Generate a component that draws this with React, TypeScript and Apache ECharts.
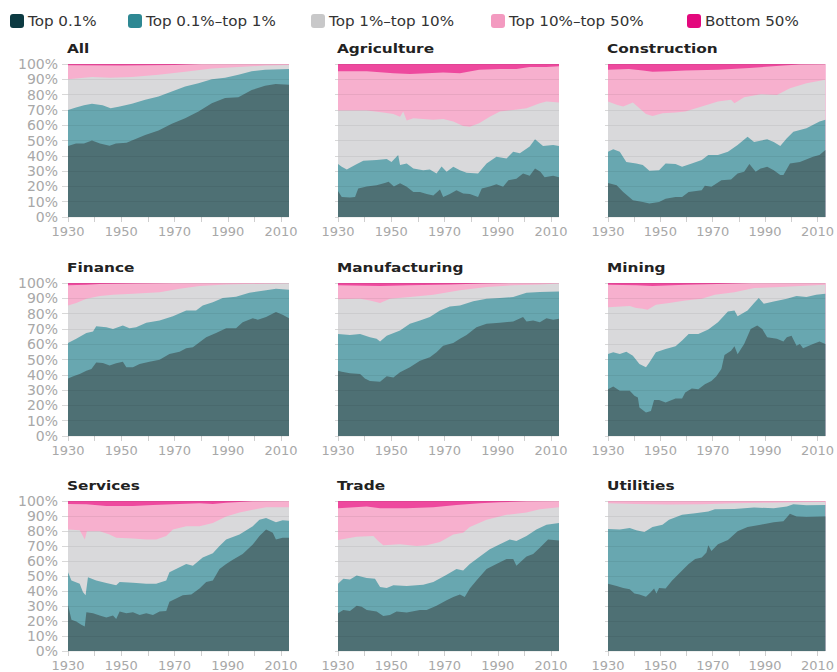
import React, { useEffect, useRef } from "react";
import * as echarts from "echarts";

const SERIES_NAMES = ["Top 0.1%", "Top 0.1%–top 1%", "Top 1%–top 10%", "Top 10%–top 50%", "Bottom 50%"];
const LEGEND_COLORS = ["#0c3a42", "#2e8893", "#c8c8c9", "#f39ac0", "#e3087d"];
const AREA_COLORS = ["#4e7074", "#68a7b0", "#d9d9db", "#f7b0ce", "#ee499e"];
const X_TICKS = [1930, 1940, 1950, 1960, 1970, 1980, 1990, 2000, 2010];
const X_LABELS = [1930, 1950, 1970, 1990, 2010];
const PANEL_TITLES = ["All", "Agriculture", "Construction", "Finance", "Manufacturing", "Mining", "Services", "Trade", "Utilities"];

// cumulative shares (%) held by top 0.1%, top 1%, top 10%, top 50%; [year, value]
const FULL = [[1930, 100], [2013, 100]];

const ALL_T01 = [[1930,46.4],[1933,48],[1936,48],[1939,50],[1942,48],[1945.6,46.5],[1948,48],[1952,48.5],[1954,50],[1959,53.6],[1964,56.5],[1969,61],[1974,64.5],[1979,69],[1984,74.4],[1989,77.7],[1994,78.3],[1999,83],[2004,85.8],[2008,87],[2013,86.4]];
const ALL_T1 = [[1930,70],[1933,71.5],[1936,73],[1939,74],[1943,73],[1946,71],[1949,72],[1954,74],[1959,76.6],[1964,78.8],[1969,82],[1974,85.3],[1979,87.5],[1984,90],[1989,91],[1994,93],[1999,95.2],[2004,96.3],[2013,96.7]];
const ALL_T10 = [[1930,90],[1939,91.5],[1946,91],[1954,91.5],[1964,93],[1974,95],[1984,97],[1994,98],[2004,99],[2013,99.3]];
const ALL_T50 = [[1930,99.2],[1950,99],[1970,99.4],[1980,100],[2013,100]];

const AGR_T01 = [[1930,17],[1931.4,13],[1934.5,12.7],[1936.4,13],[1937.6,18.6],[1940.8,20],[1944.5,20.8],[1947.6,22.3],[1949,23],[1951,20],[1953.3,22],[1955.8,19.7],[1958.3,16.4],[1960.8,16.4],[1963.3,15],[1965.8,14],[1968.3,18],[1969.5,13],[1972,15],[1974.5,17.5],[1977,15.3],[1979.5,15],[1982.6,13],[1984,18.6],[1987,20],[1989.5,21.4],[1992,19.7],[1994,24],[1997,25],[1999.5,28.4],[2002,27],[2004,31.7],[2006,29.5],[2007.6,26],[2010.8,27],[2013,26]];
const AGR_T1 = [[1930,34.6],[1931.4,32.8],[1933.3,31],[1936.4,34],[1939.5,36.8],[1944.5,37.2],[1948.3,37.9],[1950.1,36],[1952.6,40.5],[1953.3,34],[1955.8,35],[1958.3,31.7],[1962,30.6],[1964.5,31],[1967,28.4],[1968.9,33],[1970.8,29.5],[1973.3,32.8],[1975.8,30.6],[1978.3,29],[1982.6,28.4],[1985.8,35],[1989.5,39.4],[1993.3,38.3],[1995.8,42.7],[1998.3,41.6],[2002,46],[2004,50.8],[2007,46.4],[2010.8,47],[2013,46.4]];
const AGR_T10 = [[1930,69.6],[1940.8,69.6],[1947,68.3],[1950.8,67.4],[1953.3,65.6],[1954.5,69],[1955.8,63],[1958.3,64.5],[1962,64],[1965.8,63.5],[1969.5,64],[1973.3,62.4],[1977,59.5],[1979.5,59],[1983,61.3],[1987,65.6],[1990.8,69],[1995.8,70],[2000.8,71],[2005.8,74.4],[2008.3,75.5],[2013,74.8]];
const AGR_T50 = [[1930,95.2],[1940.8,95.2],[1950.8,94],[1957,93.4],[1963.3,94],[1969.5,94.5],[1975.8,94],[1983,96.3],[1990.8,96.7],[1997,96.7],[2002,98],[2008.3,98],[2013,98.5]];

const CON_T01 = [[1930,22.3],[1933.3,20.8],[1935.8,16.4],[1939.5,10.9],[1943.3,9.8],[1945.8,8.8],[1949.5,9.8],[1952,12],[1955.8,13],[1958.3,13],[1960.8,16.4],[1965.8,17.5],[1967,20.4],[1969.5,19.7],[1973.3,24],[1977,24.5],[1979.5,28.4],[1982,29.5],[1984,34.6],[1986.4,29.5],[1988.3,31.7],[1990.8,32.8],[1993.3,30.6],[1995.8,27.4],[1997,27.4],[1999.5,35],[2003.3,36],[2008.3,39.4],[2010.8,40.5],[2013,43.8]];
const CON_T1 = [[1930,42.7],[1932,44.2],[1934.5,42.7],[1937,36],[1940.8,35],[1943.3,34],[1945.8,30.2],[1949.5,30.6],[1952,35],[1955.8,34.6],[1958.3,32.8],[1962,35],[1965.8,37.2],[1968.3,40.5],[1972,40.5],[1975.8,42.7],[1979.5,47],[1983.3,52.5],[1985.8,49],[1990.8,50.8],[1993.3,49],[1995.8,46.4],[1998.3,51.4],[2000.8,55.8],[2005.8,58],[2010.8,62.4],[2013,63.5]];
const CON_T10 = [[1930,75.5],[1933.3,73.3],[1935.8,72.2],[1939.5,74.8],[1942,71],[1944.5,67.4],[1947,66],[1950.8,67.8],[1955.8,68.3],[1959.5,69],[1965.8,72.2],[1972,75.5],[1977,76.6],[1978.3,74.4],[1982,78.3],[1988.3,80.3],[1994.5,79.8],[1999.5,84.2],[2005.8,87.5],[2013,89.7]];
const CON_T50 = [[1930,96.3],[1938,96.7],[1943.3,95.8],[1947,95],[1953.3,95.2],[1959.5,95.8],[1972,96.3],[1984,97.4],[1997,99],[2003.3,99.6],[2013,99.8]];

const FIN_T01 = [[1930,37.6],[1932,39],[1934.4,40.5],[1936.9,42.7],[1938.8,43.8],[1940.6,48],[1943.1,47.7],[1945.6,46],[1948.1,47.5],[1950.6,48.6],[1951.9,44.9],[1954.4,44.9],[1956.9,47],[1960.6,48.6],[1964.4,49.9],[1968.1,53.6],[1971.9,55],[1974.4,57.3],[1976.9,58],[1979.4,61.3],[1981.9,64.6],[1985.6,67.4],[1989.4,70.5],[1993.1,70.5],[1995.6,74.4],[1999.4,77],[2001.3,75.9],[2004.4,77.7],[2008.1,81],[2010.6,79.2],[2013,77]];
const FIN_T1 = [[1930,60.8],[1933.1,63.5],[1936.9,67.4],[1939.4,68.3],[1940.6,71.8],[1944.4,71],[1946.9,70],[1950.6,72.2],[1953.1,70.5],[1955.6,71],[1959.4,74],[1964.4,75.5],[1969.4,78.3],[1974.4,82],[1978.1,82],[1980.6,85.3],[1984.4,87.5],[1988.1,90.2],[1993.1,91],[1998.1,93.7],[2004.4,95.2],[2008.1,96.3],[2013,95.6]];
const FIN_T10 = [[1930,85.3],[1933.1,87],[1936.9,89.7],[1941.9,91.5],[1946.9,92.3],[1954.4,93],[1964.4,94],[1971.9,96.3],[1979.4,98],[1989.4,99.1],[2013,99.8]];
const FIN_T50 = [[1930,98.5],[1936.9,98.9],[1941.9,99.3],[1954.4,99.6],[1970,100],[2013,100]];

const MAN_T01 = [[1930,42.7],[1931.4,42],[1934.5,41],[1938.3,40.5],[1940.1,37.6],[1942,36],[1945.8,35.4],[1948.3,39],[1950.8,38.3],[1953.3,41.6],[1957,44.9],[1960.8,49.2],[1964.5,51.4],[1967,54.7],[1969.5,59],[1973.3,60.8],[1975.8,63.5],[1978.3,66],[1982,71],[1985.8,73.3],[1990.8,74],[1995.8,74.8],[1999.5,77.7],[2000.8,74.8],[2003.3,75.5],[2005.8,74.4],[2008.3,77],[2010.8,76],[2013,76.6]];
const MAN_T1 = [[1930,66.7],[1934.5,66],[1938.3,66.7],[1942,64.6],[1944.5,63.5],[1945.8,61.7],[1948.3,65.6],[1953.3,69],[1957,73.3],[1960.8,75.5],[1964.5,77.7],[1968.3,82],[1972,84.7],[1975.8,85.3],[1980.8,88],[1985.8,89.7],[1990.8,90.2],[1995.8,90.8],[2000.8,93.7],[2005.8,94.1],[2013,94.5]];
const MAN_T10 = [[1930,89.3],[1938.3,89.7],[1942,88.6],[1945.8,87],[1949.5,89.7],[1957,90.8],[1965.8,92.3],[1975.8,95.2],[1985.8,97.4],[1995.8,98.5],[2005.8,99.1],[2013,99.6]];
const MAN_T50 = [[1930,98.5],[1945.8,98],[1957,98.5],[1972,99.1],[1984.5,99.6],[1995,100],[2013,100]];

const MIN_T01 = [[1930,30.6],[1932,32.4],[1934.5,29.5],[1938.3,29.5],[1940.1,26.3],[1941.4,25.2],[1942,18.6],[1944.5,15.3],[1946.4,16.4],[1947.6,23.6],[1949.5,23.6],[1952,21.9],[1955.8,24.5],[1958.3,24.5],[1959.5,28.4],[1962,31],[1964.5,30.6],[1967,33.9],[1969.5,36],[1971.4,39],[1973.3,43.8],[1974.5,53],[1977,55.8],[1978.3,58.6],[1979.5,53.4],[1982,60.2],[1984.5,70],[1987,72.2],[1988.9,70],[1990.8,64.6],[1994.5,63.5],[1997,61.7],[1998.3,64.6],[2000.1,65.6],[2002,59],[2003.3,60.2],[2004.5,57.3],[2008.3,60.2],[2010.8,61.7],[2013,60.2]];
const MIN_T1 = [[1930,53.6],[1932,54.7],[1934.5,53.6],[1937,55],[1939.5,52.5],[1942,47],[1944.5,44.9],[1945.8,48],[1948.3,54.7],[1952,56.9],[1955.8,58.6],[1958.3,62.4],[1960.8,66.7],[1964.5,66.7],[1968.3,69.6],[1972,74.4],[1975.8,81.4],[1978.3,82],[1979.5,78.3],[1983.3,82],[1985.8,87],[1987.6,90.2],[1989.5,86.4],[1993.3,87.9],[1998.3,89.7],[2002,91.5],[2005.8,90.8],[2009.5,92.3],[2013,93]];
const MIN_T10 = [[1930,84.2],[1938.3,84.9],[1940.8,83.6],[1943.3,83.2],[1945.1,82.5],[1948.3,85.8],[1953.3,87],[1959.5,88.6],[1965.8,89.7],[1970.8,92.3],[1978.3,94],[1985.8,96.7],[1995.8,97.4],[2003.3,98],[2013,98.9]];
const MIN_T50 = [[1930,98.9],[1940.8,98.5],[1947,98],[1959.5,98.9],[1971.8,99.3],[1985,100],[2013,100]];

const SER_T01 = [[1930,30.6],[1931.3,20.8],[1933.1,19.7],[1935,17.5],[1936.3,16.4],[1936.9,25.8],[1939.4,25.2],[1941.9,23.6],[1944.4,22.3],[1946.9,23.6],[1948.1,21.4],[1949.4,26.3],[1951.9,25.2],[1954.4,25.8],[1956.9,24],[1959.4,25.2],[1961.9,24],[1964.4,26.3],[1966.9,26.7],[1968.1,32.8],[1970.6,35],[1973.1,37.2],[1976.3,37.6],[1979.4,41.6],[1981.9,46],[1984.4,47],[1986.9,54.7],[1989.4,58],[1991.9,60.8],[1995.6,64.6],[1999.4,71],[2001.9,76.6],[2004.4,81],[2006.9,78.8],[2008.1,74.4],[2010.6,75.5],[2013,75.5]];
const SER_T1 = [[1930,52.5],[1931.3,47],[1934.4,44.9],[1935.6,39.4],[1936.6,37.2],[1937.5,49.2],[1940.6,47],[1944.4,45.3],[1948.1,43.8],[1949.4,46],[1954.4,45.5],[1959.4,44.9],[1963.1,44.9],[1966.9,47],[1968.1,52.5],[1971.9,55.8],[1974.4,58],[1976.9,56.9],[1980.6,62.4],[1984.4,65.2],[1986.9,70],[1989.4,74.4],[1994.4,77.7],[1999.4,83.2],[2001.9,87.5],[2004.4,88.6],[2008.1,85.8],[2010.6,87.1],[2013,86.9]];
const SER_T10 = [[1930,81],[1934.4,80.5],[1935.6,76.6],[1936.3,74.4],[1937.1,79.9],[1941.9,79.9],[1945.6,77.7],[1948.1,75.5],[1954.4,75],[1959.4,74.4],[1963.1,74.4],[1966.9,76.6],[1969.4,81],[1974.4,83.2],[1979.4,83.2],[1984.4,85.3],[1989.4,89.7],[1994.4,92.3],[1999.4,94.1],[2004.4,95.8],[2013,95.8]];
const SER_T50 = [[1930,98],[1936.9,97.8],[1944.4,96.7],[1954.4,96.7],[1961.9,97.4],[1971.9,98],[1979.4,98.5],[1984.4,98],[1989.4,98.9],[1999.4,99.8],[2013,100]];

const TRD_T01 = [[1930,25.2],[1932,27.4],[1934.5,26.7],[1937,30.2],[1938.9,29.5],[1940.8,27.4],[1944.5,26.3],[1947,23.4],[1949.5,24],[1952,26.3],[1955.8,25.6],[1960.8,27.4],[1963.3,27.4],[1967,30.2],[1970.8,33.9],[1973.3,36],[1975.8,37.6],[1977.6,36],[1979.5,41.6],[1982,47],[1985.8,54.7],[1989.5,58],[1993.3,61.3],[1995.8,61.3],[1997,56.9],[2000.8,63],[2003.3,64.6],[2005.8,68.9],[2008.9,74.4],[2013,73.7]];
const TRD_T1 = [[1930,44.9],[1932,48.1],[1934.5,47.7],[1937,50.3],[1940.8,48.6],[1943.9,48.1],[1945.8,42.7],[1948.3,42],[1950.8,43.8],[1955.8,43.3],[1962,44.2],[1965.8,46],[1970.8,50.8],[1974.5,54.7],[1977,53.6],[1979.5,58],[1983.3,63],[1987,67.8],[1990.8,71.1],[1994.5,74.4],[1997,73.3],[2000.8,76.6],[2004.5,81],[2008.3,84.2],[2013,85.3]];
const TRD_T10 = [[1930,74],[1937,76.1],[1943.3,76.6],[1945.1,73.3],[1947,70.5],[1953.3,71.1],[1959.5,70],[1963.3,70.5],[1968.3,72.6],[1973.3,77.7],[1977,78.8],[1979.5,82.7],[1985.8,87.5],[1993.3,90.8],[2000.8,92.3],[2005.8,94.5],[2013,95.8]];
const TRD_T50 = [[1930,95.2],[1940.8,96.3],[1945.8,95.2],[1955.8,95.2],[1965.8,95.8],[1974.5,97.4],[1983.3,98.5],[1990.8,99.1],[2000.8,99.8],[2013,100]];

const UTL_T01 = [[1930,44.9],[1933.3,43.3],[1935.8,42],[1938.3,41.1],[1940.1,38.3],[1942,37.6],[1944.5,36.1],[1946.4,39.4],[1947.6,41.6],[1948.5,38.3],[1949.5,42],[1952,41.6],[1954.5,47],[1958.3,53.6],[1960.8,58],[1963.3,61.3],[1965.8,62.4],[1967.6,65.6],[1968.3,70.5],[1969.5,66.7],[1972,71.1],[1975.8,74],[1979.5,79.9],[1983.3,82.7],[1988.3,84.2],[1993.3,85.8],[1997,86.5],[1999.5,91.5],[2002,89.7],[2005.8,89.3],[2013,89.7]];
const UTL_T1 = [[1930,81.4],[1934.5,81],[1938.3,82],[1940.8,80.5],[1943.9,79.4],[1947,82.7],[1950.8,84.2],[1953.3,87.5],[1958.3,90.8],[1963.3,91.9],[1968.3,93],[1970.8,94.5],[1978.3,94.7],[1985.8,95.6],[1993.3,95.2],[1998.3,96.3],[2000.8,97.8],[2005.8,97.2],[2013,97.4]];
const UTL_T10 = [[1930,98.5],[1940.8,98],[1953.3,97.6],[1965.8,97.8],[1978.3,98.5],[1990.8,98.9],[2003.3,99.1],[2013,99.3]];
const UTL_T50 = [[1930,100],[2013,100]];

// per panel: [top 0.1%, top 1%, top 10%, top 50%]
const PANEL_DATA = [
  [ALL_T01, ALL_T1, ALL_T10, ALL_T50],
  [AGR_T01, AGR_T1, AGR_T10, AGR_T50],
  [CON_T01, CON_T1, CON_T10, CON_T50],
  [FIN_T01, FIN_T1, FIN_T10, FIN_T50],
  [MAN_T01, MAN_T1, MAN_T10, MAN_T50],
  [MIN_T01, MIN_T1, MIN_T10, MIN_T50],
  [SER_T01, SER_T1, SER_T10, SER_T50],
  [TRD_T01, TRD_T1, TRD_T10, TRD_T50],
  [UTL_T01, UTL_T1, UTL_T10, UTL_T50],
];

const COL_LEFT = [68, 338, 608];
const ROW_TOP = [64, 283, 501];
const GRID_W = 221;
const GRID_H = 153;
const LEGEND_X = [10, 128, 311, 491, 687];

export default function App() {
  const ref = useRef<HTMLDivElement>(null);
  useEffect(() => {
    if (!ref.current) return;
    const chart = echarts.init(ref.current, null, { renderer: "svg" });
    const grids: any[] = [];
    const xAxes: any[] = [];
    const yAxes: any[] = [];
    const series: any[] = [];
    const graphics: any[] = [];

    PANEL_TITLES.forEach((title, i) => {
      const col = i % 3;
      const row = Math.floor(i / 3);
      const left = COL_LEFT[col];
      const top = ROW_TOP[row];
      grids.push({ left, top, width: GRID_W, height: GRID_H, containLabel: false });
      xAxes.push({
        type: "value",
        gridIndex: i,
        min: 1930,
        max: 2013,
        axisLine: { show: false },
        splitLine: { show: false },
        axisTick: { show: true, length: 5, customValues: X_TICKS, lineStyle: { color: "#cfcfcf" } },
        axisLabel: {
          customValues: X_LABELS,
          color: "#a8a8a8",
          fontSize: 13,
          fontFamily: "DejaVu Sans",
          margin: 8,
          formatter: (v: number) => String(v),
        },
      });
      yAxes.push({
        type: "value",
        gridIndex: i,
        min: 0,
        max: 100,
        interval: 10,
        z: 5,
        axisLine: { show: false },
        axisTick: { show: true, length: col === 0 ? 6 : 3, lineStyle: { color: "#d8d8d8" } },
        splitLine: { show: true, lineStyle: { color: "rgba(0,0,0,0.06)", width: 1 } },
        axisLabel: {
          show: col === 0,
          formatter: "{value}%",
          color: "#a8a8a8",
          fontSize: 14,
          fontFamily: "DejaVu Sans",
          margin: 10,
        },
      });
      const [t01, t1, t10, t50] = PANEL_DATA[i];
      const layers = [
        { name: SERIES_NAMES[4], data: FULL, color: AREA_COLORS[4] },
        { name: SERIES_NAMES[3], data: t50, color: AREA_COLORS[3] },
        { name: SERIES_NAMES[2], data: t10, color: AREA_COLORS[2] },
        { name: SERIES_NAMES[1], data: t1, color: AREA_COLORS[1] },
        { name: SERIES_NAMES[0], data: t01, color: AREA_COLORS[0] },
      ];
      layers.forEach((l) => {
        series.push({
          type: "line",
          name: l.name,
          xAxisIndex: i,
          yAxisIndex: i,
          data: l.data,
          symbol: "none",
          showSymbol: false,
          silent: true,
          lineStyle: { width: 0, color: l.color },
          itemStyle: { color: l.color },
          areaStyle: { color: l.color, opacity: 1 },
        });
      });
      graphics.push({
        type: "text",
        x: left - 1,
        y: top - 16,
        scaleX: 1.18,
        style: {
          text: title,
          fill: "#222",
          font: "bold 13px 'DejaVu Sans'",
          textVerticalAlign: "middle",
        },
      });
    });

    SERIES_NAMES.forEach((name, k) => {
      graphics.push({
        type: "rect",
        shape: { x: LEGEND_X[k], y: 14, width: 14, height: 14, r: 3 },
        style: { fill: LEGEND_COLORS[k] },
      });
      graphics.push({
        type: "text",
        x: LEGEND_X[k] + 18,
        y: 21,
        scaleX: 1.08,
        style: {
          text: name,
          fill: "#333",
          font: "14px 'DejaVu Sans'",
          textVerticalAlign: "middle",
        },
      });
    });

    chart.setOption({
      animation: false,
      backgroundColor: "#ffffff",
      grid: grids,
      xAxis: xAxes,
      yAxis: yAxes,
      series,
      graphic: graphics,
    });
    return () => chart.dispose();
  }, []);
  return (
    <div
      ref={ref}
      style={{ position: "fixed", left: 0, top: 0, width: 837, height: 672, background: "#fff" }}
    />
  );
}
